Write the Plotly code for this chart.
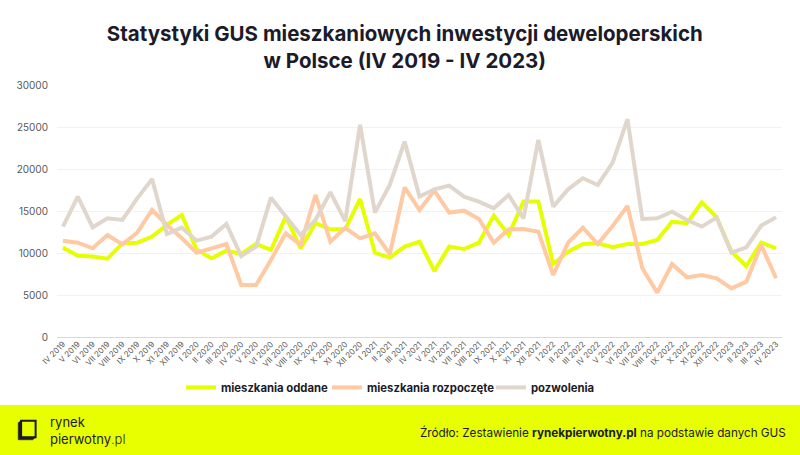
"""GUS housing statistics: completed, started and permitted dwellings, IV 2019 - IV 2023."""

import plotly.graph_objects as go

months = [
    "IV 2019", "V 2019", "VI 2019", "VII 2019", "VIII 2019", "IX 2019", "X 2019", "XI 2019", "XII 2019",
    "I 2020", "II 2020", "III 2020", "IV 2020", "V 2020", "VI 2020", "VII 2020", "VIII 2020", "IX 2020",
    "X 2020", "XI 2020", "XII 2020",
    "I 2021", "II 2021", "III 2021", "IV 2021", "V 2021", "VI 2021", "VII 2021", "VIII 2021", "IX 2021",
    "X 2021", "XI 2021", "XII 2021",
    "I 2022", "II 2022", "III 2022", "IV 2022", "V 2022", "VI 2022", "VII 2022", "VIII 2022", "IX 2022",
    "X 2022", "XI 2022", "XII 2022",
    "I 2023", "II 2023", "III 2023", "IV 2023",
]

oddane = [
    10640, 9680, 9570, 9330, 11150, 11230, 11950, 13340, 14530,
    10400, 9370, 10280, 9880, 11070, 10360, 14330, 10560, 13540,
    12820, 12820, 16430,
    10040, 9450, 10760, 11350, 7860, 10760, 10480, 11230, 14450,
    12150, 16120, 16120,
    8690, 10160, 11070, 11150, 10680, 11070, 11070, 11550, 13730,
    13540, 16040, 14250,
    10160, 8450, 11230, 10560,
]

rozpoczete = [
    11470, 11230, 10560, 12150, 11030, 12420, 15120, 13340, 11750,
    10040, 10560, 11070, 6190, 6190, 9170, 12340, 10960, 16910,
    11350, 13000, 11750,
    12340, 9880, 17820, 15120, 17430, 14810, 15040, 14050, 11230,
    12820, 12860, 12540,
    7380, 11230, 13020, 11070, 13220, 15600, 8180, 5280, 8690,
    7100, 7380, 6990,
    5790, 6590, 10960, 6990,
]

pozwolenia = [
    13140, 16710, 13060, 14130, 13930, 16510, 18810, 12260, 13020,
    11470, 11950, 13460, 9640, 10760, 16590, 14330, 12150, 13930,
    17230, 13800, 25250,
    14810, 18100, 23260, 16710, 17580, 18020, 16710, 16120, 15320,
    16910, 14130, 23460,
    15520, 17580, 18900, 18100, 20760, 25920, 14050, 14130, 14920,
    13930, 13140, 14210,
    10040, 10680, 13260, 14250,
]

# name, values, colour, legend id, legend left edge (paper x)
series = [
    ("mieszkania oddane", oddane, "#e6ff00", "legend", 0.171),
    ("mieszkania rozpoczęte", rozpoczete, "#ffc9a3", "legend2", 0.3724),
    ("pozwolenia", pozwolenia, "#e0d6cc", "legend3", 0.5986),
]

FONT = "Inter, Lato, sans-serif"
DARK = "#1b1b2a"

fig = go.Figure()
legends = {}
for name, values, color, leg, lx in series:
    fig.add_trace(
        go.Scatter(
            x=months,
            y=values,
            name=name,
            mode="lines",
            line=dict(color=color, width=4),
            legend=leg,
        )
    )
    legends[leg] = dict(
        orientation="h", x=lx, xanchor="left", y=-0.2, yanchor="middle",
        font=dict(family=FONT, size=11.3, color=DARK, weight="bold"),
        itemwidth=30, bgcolor="rgba(0,0,0,0)",
    )

# footer band
fig.add_shape(
    type="rect", xref="paper", yref="paper",
    x0=-0.2, x1=1.2, y0=-0.5, y1=-0.27,
    fillcolor="#e8ff00", line_width=0, layer="below",
)
# logo icon: square outline with a heavier left/bottom edge
fig.add_shape(
    type="rect", xref="paper", yref="paper",
    x0=-0.0495, x1=-0.0295, y0=-0.398, y1=-0.332,
    line=dict(color=DARK, width=2), fillcolor="rgba(0,0,0,0)",
)
fig.add_shape(
    type="path", xref="paper", yref="paper",
    path="M -0.0535 -0.340 L -0.0535 -0.408 L -0.0335 -0.408 L -0.0295 -0.398 "
         "L -0.0495 -0.398 L -0.0495 -0.332 Z",
    line=dict(color=DARK, width=0.5), fillcolor=DARK,
)

fig.add_annotation(
    text="rynek<br>pierwotny<span style='font-weight:300'>.pl</span>",
    xref="paper", yref="paper", x=-0.0125, y=-0.372,
    xanchor="left", yanchor="middle", align="left", showarrow=False,
    font=dict(family=FONT, size=13, color=DARK),
)
fig.add_annotation(
    text="Źródło: Zestawienie <b>rynekpierwotny.pl</b> na podstawie danych GUS",
    xref="paper", yref="paper", x=1.008, y=-0.377,
    xanchor="right", yanchor="middle", showarrow=False,
    font=dict(family=FONT, size=11.7, color=DARK),
)

fig.update_layout(
    width=800,
    height=455,
    title=dict(
        text="<b>Statystyki GUS mieszkaniowych inwestycji deweloperskich<br>w Polsce (IV 2019 - IV 2023)</b>",
        x=0.506, xanchor="center", y=0.91, yanchor="middle",
        font=dict(family=FONT, size=20.5, color=DARK),
    ),
    margin=dict(l=57, r=18, t=85, b=118),
    paper_bgcolor="white",
    plot_bgcolor="white",
    showlegend=True,
    font=dict(family=FONT, color="#595959"),
    **legends,
)
fig.update_xaxes(
    range=[-0.4, 48.4],
    tickangle=-45,
    tickfont=dict(size=8, color="#595959"),
    showgrid=False,
    showline=False,
    ticks="",
)
fig.update_yaxes(
    range=[0, 30000],
    tickvals=[0, 5000, 10000, 15000, 20000, 25000, 30000],
    tickformat="d",
    tickfont=dict(size=10, color="#595959"),
    gridcolor="#f2f2f2",
    zeroline=True,
    zerolinecolor="#d9d9d9",
    zerolinewidth=1,
    ticklabelstandoff=8,
)

# page body has a default 8px margin; drop it so the figure sits at the window origin
fig.write_html(
    "out.html",
    config={"displayModeBar": False},
    post_script="document.body.style.margin='0';",
)
